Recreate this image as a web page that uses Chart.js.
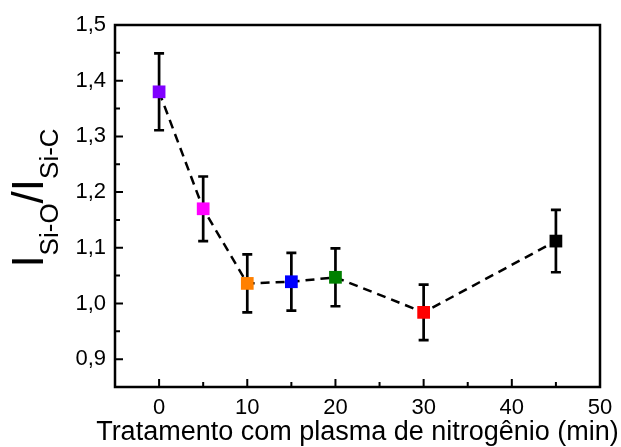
<!DOCTYPE html>
<html>
<head>
<meta charset="utf-8">
<script src="https://cdn.jsdelivr.net/npm/chart.js@4/dist/chart.umd.min.js"></script>
<style>
  html, body { margin: 0; padding: 0; background: #fff; }
  #wrap { width: 621px; height: 447px; }
</style>
</head>
<body>
<div id="wrap"><canvas id="chart" width="621" height="447"></canvas></div>
<script>
// data
const times = [0, 5, 10, 15, 20, 30, 45];
const ratio = [1.380, 1.170, 1.036, 1.039, 1.047, 0.984, 1.112];
const errors = [0.069, 0.058, 0.052, 0.052, 0.052, 0.050, 0.056];
const markerColors = ['#8000ff', '#ff00ff', '#ff8000', '#0000ff', '#008000', '#ff0000', '#000000'];
const xTitle = 'Tratamento com plasma de nitrogênio (min)';

const FONT = "'Liberation Sans', Arial, Helvetica, sans-serif";

// error bars, frame box, inward ticks and the axis titles
const extras = {
  id: 'extras',
  beforeDatasetsDraw(chart) {
    const ctx = chart.ctx;
    const xs = chart.scales.x, ys = chart.scales.y;
    ctx.save();
    ctx.strokeStyle = '#000';
    ctx.lineWidth = 2.7;
    for (let i = 0; i < times.length; i++) {
      const px = xs.getPixelForValue(times[i]);
      const top = ys.getPixelForValue(ratio[i] + errors[i]);
      const bot = ys.getPixelForValue(ratio[i] - errors[i]);
      ctx.beginPath();
      ctx.moveTo(px, top); ctx.lineTo(px, bot);
      ctx.moveTo(px - 5, top); ctx.lineTo(px + 5, top);
      ctx.moveTo(px - 5, bot); ctx.lineTo(px + 5, bot);
      ctx.stroke();
    }
    ctx.restore();
  },
  afterDraw(chart) {
    const ctx = chart.ctx;
    const a = chart.chartArea;
    const xs = chart.scales.x, ys = chart.scales.y;
    ctx.save();
    ctx.strokeStyle = '#000';
    ctx.lineWidth = 2.5;
    ctx.strokeRect(a.left, a.top, a.right - a.left, a.bottom - a.top);

    ctx.lineWidth = 2;
    ctx.beginPath();
    for (let v = 0; v < 50; v += 5) {
      const px = xs.getPixelForValue(v);
      const len = v % 10 === 0 ? 8 : 5;
      ctx.moveTo(px, a.bottom); ctx.lineTo(px, a.bottom - len);
    }
    for (let k = 18; k < 30; k++) {
      const v = k * 0.05;
      const py = ys.getPixelForValue(v);
      const len = k % 2 === 0 ? 8 : 5;
      ctx.moveTo(a.left, py); ctx.lineTo(a.left + len, py);
    }
    ctx.stroke();

    ctx.fillStyle = '#000';
    // x title
    ctx.font = '27px ' + FONT;
    ctx.textAlign = 'center';
    ctx.textBaseline = 'alphabetic';
    ctx.fillText(xTitle, (a.left + a.right) / 2, 440);

    // y title: I_Si-O / I_Si-C
    ctx.textAlign = 'left';
    const parts = [
      ['I', 44, 0], ['Si-O', 26, 15], ['/', 44, 0], ['I', 44, 0], ['Si-C', 26, 15]
    ];
    let total = 0;
    parts.forEach(p => { ctx.font = p[1] + 'px ' + FONT; total += ctx.measureText(p[0]).width; });
    ctx.translate(43, 198);
    ctx.rotate(-Math.PI / 2);
    let x = -total / 2;
    parts.forEach(p => {
      ctx.font = p[1] + 'px ' + FONT;
      ctx.fillText(p[0], x, p[2]);
      x += ctx.measureText(p[0]).width;
    });
    ctx.restore();
  }
};

const config = {
  type: 'scatter',
  data: {
    datasets: [{
      data: times.map((t, i) => ({ x: t, y: ratio[i] })),
      showLine: true,
      borderColor: '#000',
      borderWidth: 2.5,
      borderDash: [9, 6],
      pointStyle: 'rect',
      pointRadius: 9,
      pointHoverRadius: 9,
      pointBackgroundColor: markerColors,
      pointBorderColor: markerColors,
      pointBorderWidth: 0,
      tension: 0
    }]
  },
  options: {
    responsive: false,
    animation: false,
    layout: { padding: { left: 0, top: 25, right: 21, bottom: 0 } },
    plugins: { legend: { display: false }, tooltip: { enabled: false } },
    scales: {
      x: {
        type: 'linear',
        min: -5,
        max: 50,
        grid: { display: false, drawTicks: false },
        border: { display: false },
        afterFit(scale) { scale.height = 60; },
        ticks: {
          stepSize: 10,
          autoSkip: false,
          maxRotation: 0,
          padding: 8,
          color: '#000',
          font: { family: FONT, size: 22 },
          callback: (v) => (v >= 0 && v % 10 === 0 ? String(v) : '')
        }
      },
      y: {
        type: 'linear',
        min: 0.85,
        max: 1.5,
        grid: { display: false, drawTicks: false },
        border: { display: false },
        afterFit(scale) { scale.width = 115; },
        ticks: {
          stepSize: 0.1,
          autoSkip: false,
          padding: 9,
          color: '#000',
          font: { family: FONT, size: 22 },
          callback: (v) => {
            const r = Math.round(v * 10);
            return Math.abs(v * 10 - r) < 1e-6 ? (r / 10).toFixed(1).replace('.', ',') : '';
          }
        }
      }
    }
  },
  plugins: [extras]
};

const chart = new Chart(document.getElementById('chart'), config);
</script>
</body>
</html>
